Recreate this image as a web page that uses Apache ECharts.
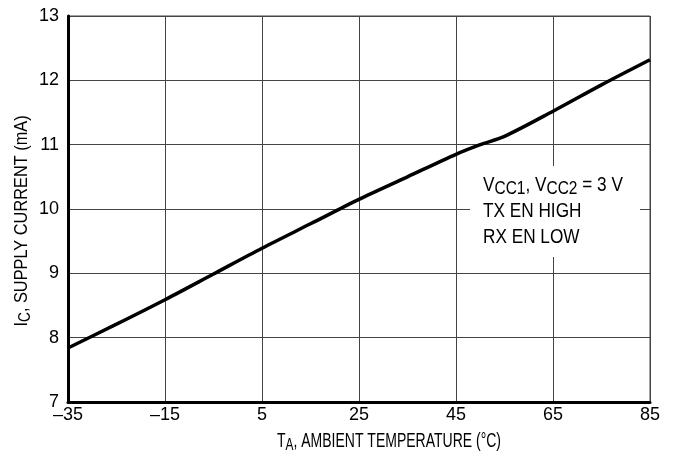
<!DOCTYPE html>
<html><head><meta charset="utf-8">
<script src="https://cdn.jsdelivr.net/npm/echarts@6/dist/echarts.min.js"></script>
<style>html,body{margin:0;padding:0;background:#fff}#c{width:676px;height:460px}</style>
</head><body><div id="c"></div>
<script>
var temps = [-35, -25, -15, -5, 5, 15, 25, 35, 45, 50, 55, 65, 75, 85];
var current = [7.84, 8.21, 8.59, 8.99, 9.39, 9.77, 10.15, 10.5, 10.85, 11.0, 11.13, 11.52, 11.93, 12.32];
var xTicks = [-35, -15, 5, 25, 45, 65, 85];
var yTicks = [7, 8, 9, 10, 11, 12, 13];
var FONT = '"Liberation Sans", Arial, sans-serif';

var chart = echarts.init(document.getElementById('c'), null, {renderer: 'canvas'});
var data = temps.map(function (t, i) { return [t, current[i]]; });
chart.setOption({
  animation: false,
  backgroundColor: '#fff',
  grid: {left: 68, right: 26, top: 16, bottom: 58, show: true, borderColor: '#444', borderWidth: 1},
  xAxis: {
    type: 'value', min: xTicks[0], max: xTicks[xTicks.length - 1], interval: 20,
    axisLine: {show: true, onZero: false, lineStyle: {color: '#000', width: 3}},
    axisTick: {show: false},
    splitLine: {show: true, lineStyle: {color: '#444', width: 1}},
    axisLabel: {color: '#000', fontFamily: FONT, fontSize: 18, margin: 4,
      formatter: function (v) { return String(v).replace('-', '\u2013'); }}
  },
  yAxis: {
    type: 'value', min: yTicks[0], max: yTicks[yTicks.length - 1], interval: 1,
    axisLine: {show: true, onZero: false, lineStyle: {color: '#000', width: 3}},
    axisTick: {show: false},
    splitLine: {show: true, lineStyle: {color: '#444', width: 1}},
    axisLabel: {color: '#000', fontFamily: FONT, fontSize: 18, margin: 9}
  },
  series: [{
    type: 'line', data: data, showSymbol: false, smooth: 0.3,
    lineStyle: {color: '#000', width: 3.5}, z: 5
  }],
  graphic: [
    {type: 'rect', shape: {x: 470, y: 166, width: 170, height: 91}, style: {fill: '#fff'}, z: 50},
    {type: 'text', x: 483, y: 172, scaleX: 0.86, z: 51, style: {
      text: 'V{s|CC1}, V{s|CC2} = 3 V\nTX EN HIGH\nRX EN LOW',
      font: '20px ' + FONT, fill: '#000', lineHeight: 26,
      rich: {s: {fontSize: 18, fontFamily: FONT, padding: [9, 0, 0, 0]}}
    }},
    {type: 'text', x: 22, y: 221, rotation: Math.PI / 2, scaleX: 0.86, z: 51, style: {
      text: 'I{s|C}, SUPPLY CURRENT (mA)', font: '19px ' + FONT, fill: '#000',
      align: 'center', verticalAlign: 'middle',
      rich: {s: {fontSize: 16, fontFamily: FONT, padding: [8, 0, 0, 0]}}
    }},
    {type: 'text', x: 389, y: 441, scaleX: 0.7, z: 51, style: {
      text: 'T{s|A}, AMBIENT TEMPERATURE (\u00B0C)', font: '20px ' + FONT, fill: '#000',
      align: 'center', verticalAlign: 'middle',
      rich: {s: {fontSize: 17, fontFamily: FONT, padding: [8, 0, 0, 0]}}
    }}
  ]
});
</script></body></html>
